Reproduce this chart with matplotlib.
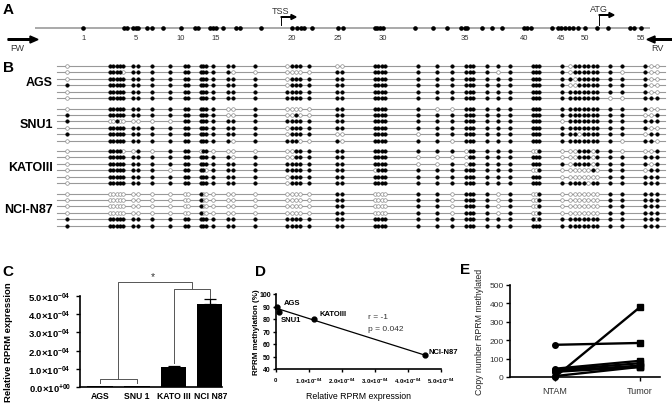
import numpy as np
import matplotlib
matplotlib.use('Agg')
import matplotlib.pyplot as plt
from matplotlib.patches import FancyArrow

plt.rcParams['font.family'] = ['Liberation Sans', 'DejaVu Sans']
plt.rcParams['mathtext.fontset'] = 'custom'
plt.rcParams['mathtext.rm'] = 'Liberation Sans'
plt.rcParams['mathtext.bf'] = 'Liberation Sans:bold'
plt.rcParams['mathtext.it'] = 'Liberation Sans:italic'

# ---------------- data ----------------
# Panel A: CpG positions along the amplicon (map units)
cpg_map_pos = [83.3, 124, 126.7, 133.3, 135.7, 138.3, 146.7, 151.7, 163.3, 180.7,
               195, 198.3, 210, 213.3, 216, 222.7, 236, 240, 261, 291.7,
               296.7, 300.7, 304, 312.3, 338.3, 343.3, 375, 377.3, 380, 383.3,
               415, 433.3, 447.3, 461, 465, 467.3, 481.7, 491.7, 502.3, 524.3,
               527.3, 530.7, 551.7, 558, 561, 565, 569, 573, 578, 585,
               597, 608, 630, 634, 641]
cpg_label_ids = [1, 5, 10, 15, 20, 25, 30, 35, 40, 45, 50, 55]
tss_pos = 281
atg_pos = 599

# Panel B: CpG positions in the clone (lollipop) diagram
cpg_clone_pos = [66.7, 110, 113.3, 116.7, 120, 122.7, 132.7, 137.7, 151.7, 170,
                 185, 188.3, 201, 203.3, 206, 213.3, 228.3, 232.7, 255, 286.7,
                 291.7, 296, 300, 309.3, 336.7, 341.7, 375, 378.3, 381.7, 385,
                 418.3, 437.3, 451.7, 466, 470, 473.3, 486.7, 497.7, 510, 532.7,
                 536, 539.3, 561.7, 570, 574.5, 579, 583.5, 588, 592.5, 597,
                 610, 621.7, 645, 650.7, 656.7]

cell_lines_B = ['AGS', 'SNU1', 'KATOIII', 'NCI-N87']
# 1 = methylated (filled), 0 = unmethylated (open)
meth_AGS = [
    "0 11 111 11 1 1 11 111 1 11 1 0111 1 00 1111 1 1 1 111 1 1 1 111 1 0111111 1 1 100",
    "0 11 110 11 1 1 11 111 1 10 0 0000 0 11 1111 1 1 1 111 1 0 1 111 1 0111111 1 0 100",
    "0 11 111 11 1 1 11 111 1 11 1 0111 1 11 1111 1 1 1 111 1 1 1 111 1 1011111 1 1 100",
    "1 11 111 11 1 1 11 111 1 11 1 0111 1 11 1111 1 1 1 111 1 1 1 111 1 0011111 1 1 100",
    "0 11 111 11 1 1 11 111 1 11 1 1111 1 11 1111 1 1 1 111 1 1 1 111 1 1111111 1 1 100",
    "0 11 111 11 1 1 11 111 1 11 1 1111 1 11 1111 1 1 1 111 1 1 1 111 1 1111111 0 0 111",
]
meth_SNU1 = [
    "0 11 111 11 1 1 11 111 1 00 1 0000 0 11 1111 1 0 0 111 1 1 1 111 1 1111111 1 1 100",
    "1 11 111 11 1 1 11 111 1 00 1 0010 0 11 1111 1 1 1 111 1 1 1 111 1 1111111 1 1 001",
    "1 00 100 00 0 0 11 111 1 11 1 1111 1 11 1111 1 1 1 111 1 1 1 111 0 1111111 1 1 111",
    "0 11 111 11 1 1 11 111 1 11 1 0111 1 11 1111 1 1 1 111 1 1 1 111 1 1111111 1 1 100",
    "1 11 111 11 1 1 11 111 1 11 1 0111 1 00 1111 0 1 1 111 1 1 1 111 1 1101111 1 1 011",
    "0 11 111 11 1 1 11 111 1 10 1 1110 0 10 1111 1 1 0 111 1 1 1 111 1 1111111 1 0 110",
]
meth_KATOIII = [
    "0 11 110 01 0 1 11 011 0 00 0 0011 1 11 1111 1 1 1 011 1 1 1 001 0 0011101 1 0 001",
    "0 11 111 11 1 1 11 111 1 10 1 0011 1 11 1111 0 0 0 011 1 1 1 111 0 0011101 1 1 111",
    "0 11 111 11 1 1 11 111 1 11 1 1111 1 11 1111 0 0 1 011 1 1 1 111 1 0111101 1 1 101",
    "0 11 111 11 1 0 11 110 1 11 1 1111 1 11 0111 1 1 1 111 1 1 1 001 0 0000010 1 1 011",
    "0 11 111 11 1 1 11 111 1 11 1 0111 1 11 1111 1 1 1 111 1 1 1 111 0 0000000 1 1 111",
    "0 11 111 11 1 1 11 111 1 11 1 0111 1 11 1111 1 1 1 111 1 1 1 111 1 1111011 1 1 111",
]
meth_NCIN87 = [
    "0 00 000 00 0 0 00 100 0 00 0 0000 0 11 0000 1 1 0 111 1 0 1 001 0 0000000 1 1 111",
    "0 00 000 00 0 0 00 100 0 00 0 0000 0 11 0000 1 1 0 111 1 0 1 001 0 0000000 1 1 111",
    "0 00 000 00 0 0 00 100 0 00 0 0000 0 11 0000 1 1 0 111 1 0 1 001 0 0000000 1 1 111",
    "0 00 000 00 0 0 00 100 0 00 0 0000 0 11 0000 1 1 0 111 1 0 1 001 0 0000000 1 1 111",
    "1 11 111 11 1 1 11 111 1 11 1 1111 1 11 1111 1 1 1 111 1 1 1 101 1 1111111 1 1 111",
    "1 11 111 11 1 1 11 111 1 11 1 1111 1 11 1111 1 1 1 111 1 1 1 111 1 1111111 1 1 111",
]

# Panel C: relative RPRM expression
expr_lines = ['AGS', 'SNU 1', 'KATO III', 'NCI N87']
expr_values = [0.04e-4, 0.08e-4, 1.1e-4, 4.56e-4]
expr_err = [0.0, 0.0, 0.04e-4, 0.28e-4]
c_ticks = [0, 1e-4, 2e-4, 3e-4, 4e-4, 5e-4]
c_tick_labels = ['0.0×10^{+00}', '1.0×10^{-04}', '2.0×10^{-04}', '3.0×10^{-04}',
                 '4.0×10^{-04}', '5.0×10^{-04}']

# Panel D: correlation methylation vs expression
corr_lines = ['AGS', 'SNU1', 'KATOIII', 'NCI-N87']
corr_expr = [0.04e-4, 0.1e-4, 1.15e-4, 4.5e-4]
corr_meth = [89.5, 86.0, 80.0, 51.0]
d_xticks = [0, 1e-4, 2e-4, 3e-4, 4e-4, 5e-4]
d_xtick_labels = ['0', '1.0×10^{-04}', '2.0×10^{-04}', '3.0×10^{-04}',
                  '4.0×10^{-04}', '5.0×10^{-04}']

# Panel E: paired copy numbers
pair_groups = ['NTAM', 'Tumor']
ntam_copy = [0, 175, 45, 38, 32, 28, 5]
tumor_copy = [380, 185, 88, 75, 62, 55, 55]

# ---------------- figure ----------------
fig = plt.figure(figsize=(6.72, 4.14), dpi=100)
ov = fig.add_axes([0, 0, 1, 1])
ov.set_xlim(0, 672)
ov.set_ylim(414, 0)
ov.axis('off')

# Panel letters
for letter, (lx, ly) in zip('ABCDE', [(8, 10), (8, 68), (8, 272), (260, 272), (465, 270)]):
    ov.text(lx, ly, letter, fontsize=11, fontweight='bold', ha='center', va='center')

# ---- Panel A ----
yA = 29
ov.plot([35, 650], [yA, yA], color='#9b9b9b', lw=1.2, zorder=1, solid_capstyle='butt')
ov.plot(cpg_map_pos, [yA] * len(cpg_map_pos), 'o', ms=2.3, color='black', zorder=2)
for i in cpg_label_ids:
    ov.text(cpg_map_pos[i - 1], 38, str(i), ha='center', va='center', fontsize=5.5, color='#333333')
ov.add_patch(FancyArrow(8, 40.5, 30, 0, width=1.6, head_width=7, head_length=8,
                        length_includes_head=True, color='black'))
ov.text(10, 48.5, 'FW', ha='left', va='center', fontsize=6.5, color='#333333')
ov.add_patch(FancyArrow(672, 40.5, -25, 0, width=1.6, head_width=7, head_length=8,
                        length_includes_head=True, color='black'))
ov.text(651, 48.5, 'RV', ha='left', va='center', fontsize=6.5, color='#333333')
for pos, lab, top in [(tss_pos, 'TSS', 18), (atg_pos, 'ATG', 16)]:
    ov.plot([pos, pos], [26, top], color='black', lw=0.7)
    ov.add_patch(FancyArrow(pos, top, 15, 0, width=0.5, head_width=5, head_length=5,
                            length_includes_head=True, color='black'))
    ov.text(pos, top - 6.5, lab, ha='center', va='center', fontsize=6.5, color='#333333')

# ---- Panel B ----
groups = [meth_AGS, meth_SNU1, meth_KATOIII, meth_NCIN87]
y0 = 67
row_step = 6.4
group_step = 42.5
xs = np.array(cpg_clone_pos)
for g, rows in enumerate(groups):
    for r, s in enumerate(rows):
        bits = np.array([int(c) for c in s.replace(' ', '')])
        assert len(bits) == len(xs)
        y = y0 + g * group_step + r * row_step
        ov.plot([57, 665], [y, y], color='#999999', lw=0.8, zorder=1)
        ov.plot(xs[bits == 0], [y] * int((bits == 0).sum()), 'o', ms=2.6,
                mfc='white', mec='#8c8c8c', mew=0.5, zorder=2)
        ov.plot(xs[bits == 1], [y] * int((bits == 1).sum()), 'o', ms=2.6,
                mfc='black', mec='black', mew=0.3, zorder=3)
    ov.text(53, y0 + g * group_step + 2.5 * row_step, cell_lines_B[g], ha='right',
            va='center', fontsize=9, fontweight='bold')


def style_axes(ax):
    for sp in ['top', 'right']:
        ax.spines[sp].set_visible(False)
    for sp in ['left', 'bottom']:
        ax.spines[sp].set_linewidth(1.2)
    ax.tick_params(direction='out', length=3, width=1.0)
    ax.patch.set_alpha(0)


# ---- Panel C ----
cx0, cx1, cy0, cy1 = 80, 222, 388, 297
axC = fig.add_axes([cx0 / 672, 1 - cy0 / 414, (cx1 - cx0) / 672, (cy0 - cy1) / 414])
xc = np.arange(len(expr_lines))
axC.bar(xc, expr_values, width=0.7, color='black', zorder=2)
axC.errorbar(xc[2:], np.array(expr_values)[2:], yerr=[np.zeros(2), np.array(expr_err)[2:]],
             fmt='none', ecolor='black', elinewidth=0.9, capsize=4.5, capthick=0.9, zorder=3)
axC.set_xlim(-0.545, 3.32)
axC.set_ylim(0, 5e-4)
style_axes(axC)
axC.set_yticks(c_ticks)
axC.set_yticklabels([r'$\mathbf{' + t + '}$' for t in c_tick_labels], fontsize=6.8)
axC.set_xticks(xc)
axC.set_xticklabels(expr_lines, fontsize=6.2, fontweight='bold')
axC.tick_params(axis='x', length=0, pad=3)
axC.set_ylabel('Relative RPRM expression', fontsize=6.8, fontweight='bold')
axC.yaxis.set_label_coords(-0.47, 0.5)
# significance brackets
bc = '#555555'
blw = 0.7
top_ns = expr_values[1] + 0.35e-4
axC.plot([0, 0, 1, 1], [top_ns - 0.2e-4, top_ns, top_ns, top_ns - 0.2e-4], color=bc, lw=blw, clip_on=False)
b2 = 5.38e-4
axC.plot([2, 2, 3, 3], [expr_values[2] + 0.2e-4, b2, b2, expr_values[3] + expr_err[3] + 0.05e-4],
         color=bc, lw=blw, clip_on=False)
b1 = 5.77e-4
axC.plot([0.5, 0.5, 2.5, 2.5], [top_ns, b1, b1, b2], color=bc, lw=blw, clip_on=False)
axC.text(1.45, 6.12e-4, '*', ha='center', va='center', fontsize=7.5, color='#333333')

# ---- Panel D ----
dx0, dx1, dy0, dy1 = 276, 441, 370, 295
axD = fig.add_axes([dx0 / 672, 1 - dy0 / 414, (dx1 - dx0) / 672, (dy0 - dy1) / 414])
axD.set_xlim(0, 5e-4)
axD.set_ylim(40, 100)
style_axes(axD)
coef = np.polyfit(corr_expr, corr_meth, 1)
xl = np.array([0, max(corr_expr)])
axD.plot(xl, np.polyval(coef, xl), color='black', lw=0.9, zorder=2)
axD.plot(corr_expr, corr_meth, 'o', color='black', ms=3.5, zorder=3, clip_on=False)
offsets = {'AGS': (5, 3), 'SNU1': (1, -6), 'KATOIII': (4, 4), 'NCI-N87': (3, 3)}
for name, x, y in zip(corr_lines, corr_expr, corr_meth):
    axD.annotate(name, (x, y), xytext=offsets[name], textcoords='offset points',
                 fontsize=5.5, fontweight='bold', ha='left', va='center', annotation_clip=False)
axD.set_yticks([40, 50, 60, 70, 80, 90, 100])
axD.set_yticklabels(['40', '50', '60', '70', '80', '90', '100'], fontsize=5, fontweight='bold')
axD.set_xticks(d_xticks)
axD.set_xticklabels([r'$\mathbf{' + t + '}$' for t in d_xtick_labels], fontsize=4.3)
axD.tick_params(axis='y', length=2.5, pad=1.2)
axD.tick_params(axis='x', length=2.5, pad=2)
axD.set_ylabel('RPRM methylation (%)', fontsize=5.8, fontweight='bold')
axD.yaxis.set_label_coords(-0.1, 0.5)
axD.set_xlabel('Relative RPRM expression', fontsize=6.3)
axD.xaxis.set_label_coords(0.5, -0.29)
axD.text(368, 318, 'r = -1', transform=ov.transData, fontsize=6, ha='left', va='center', color='#333333')
axD.text(368, 330, 'p = 0.042', transform=ov.transData, fontsize=6, ha='left', va='center', color='#333333')

# ---- Panel E ----
ex0, ex1, ey0, ey1 = 510, 660, 378, 286
axE = fig.add_axes([ex0 / 672, 1 - ey0 / 414, (ex1 - ex0) / 672, (ey0 - ey1) / 414])
axE.set_xlim(-0.53, 1.235)
axE.set_ylim(0, 500)
style_axes(axE)
for a, b in zip(ntam_copy, tumor_copy):
    axE.plot([0, 1], [a, b], color='black', lw=1.7, zorder=2, clip_on=False)
    axE.plot([0], [a], 'o', color='black', ms=4, zorder=3, clip_on=False)
    axE.plot([1], [b], 's', color='black', ms=4, zorder=3, clip_on=False)
axE.set_yticks([0, 100, 200, 300, 400, 500])
axE.set_yticklabels(['0', '100', '200', '300', '400', '500'], fontsize=6, color='#333333')
axE.set_xticks([0, 1])
axE.set_xticklabels(pair_groups, fontsize=6.5, color='#333333')
axE.tick_params(axis='y', pad=1.5)
axE.set_ylabel('Copy number RPRM methylated', fontsize=6.3, color='#222222')
axE.yaxis.set_label_coords(-0.17, 0.5)

fig.savefig('out.png', dpi=100)
